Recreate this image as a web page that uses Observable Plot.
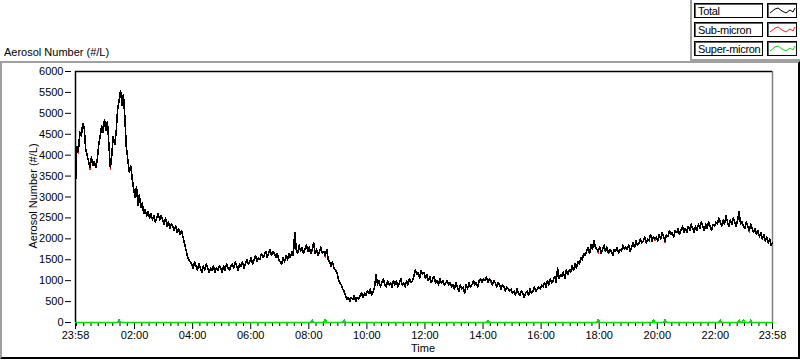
<!DOCTYPE html>
<html><head><meta charset="utf-8">
<script src="https://cdn.jsdelivr.net/npm/d3@7"></script>
<script src="https://cdn.jsdelivr.net/npm/@observablehq/plot@0.6"></script>
<style>
html,body{margin:0;padding:0;background:#fff;width:800px;height:361px;overflow:hidden;font-family:"Liberation Sans",Arial,sans-serif;font-size:11px;color:#000;}
#wrap{position:relative;width:800px;height:361px;}
#panel{position:absolute;left:0;top:61px;width:796px;height:294px;border-top:2px solid #a0a0a0;border-left:2px solid #a0a0a0;border-right:2px solid #000;border-bottom:2px solid #000;}
#legend{position:absolute;left:690px;top:0;width:108px;height:59px;border-left:2px solid #a0a0a0;border-bottom:2px solid #a0a0a0;}
.lbox{position:absolute;left:694px;width:67px;height:13px;border:1px solid #000;box-shadow:inset 1px 1px 0 #606060;background:#fff;}
.lbox span{position:absolute;left:3px;top:2px;line-height:11px;white-space:nowrap;letter-spacing:-0.3px;}
.sbox{position:absolute;left:767px;width:28px;height:13px;border:1px solid #000;box-shadow:inset 1px 1px 0 #606060;background:#fff;}
.sbox svg{position:absolute;left:0;top:0;}
#ytitle{position:absolute;left:33px;top:196px;transform:translate(-50%,-50%) rotate(-90deg);white-space:nowrap;line-height:11px;}
#xtitle{position:absolute;left:423px;top:343px;transform:translateX(-50%);white-space:nowrap;line-height:11px;}
#toptitle{position:absolute;left:4px;top:47px;white-space:nowrap;line-height:11px;}
#chart{position:absolute;left:0;top:0;}
#chart svg g[aria-label="line"] path{shape-rendering:crispEdges;}
</style></head>
<body><div id="wrap">
<div id="panel"></div>
<div id="legend"></div>
<div id="toptitle">Aerosol Number (#/L)</div>
<div id="ytitle">Aerosol Number (#/L)</div>
<div id="xtitle">Time</div>
<div id="chart"></div>
<div id="leg"></div>
</div>
<script>
// ---- data (sampled every 3 minutes from 23:58 to 23:58 next day; one row per hour) ----
const startClock = "23:58";
const stepMinutes = 3;
const seriesNames = ["Total", "Sub-micron", "Super-micron"];
const seriesColors = ["#000000", "#ff2020", "#00e000"];

const total = [
  3300, 4200, 4100, 4550, 4450, 4750, 4650, 4150, 4000, 3850, 3700, 3950, 3750, 3850, 3700, 3900, 4250, 4450, 4700, 4550,
  4850, 4600, 4800, 4250, 3700, 4000, 4450, 4250, 4550, 5100, 5300, 5550, 5200, 5450, 4900, 4200, 3900, 3600, 3750, 3450,
  3200, 3000, 3250, 2800, 3050, 2750, 2850, 2600, 2700, 2550, 2650, 2500, 2600, 2450, 2550, 2400, 2500, 2600, 2450, 2550,
  2450, 2350, 2500, 2300, 2400, 2250, 2350, 2300, 2200, 2300, 2150, 2250, 2100, 2200, 2050, 1900, 1750, 1600, 1500, 1450,
  1400, 1300, 1450, 1350, 1250, 1400, 1300, 1200, 1350, 1250, 1400, 1300, 1200, 1300, 1250, 1350, 1200, 1300, 1250, 1350,
  1300, 1200, 1350, 1250, 1400, 1300, 1250, 1350, 1400, 1300, 1450, 1350, 1250, 1400, 1350, 1450, 1300, 1400, 1500, 1400,
  1450, 1550, 1400, 1500, 1600, 1450, 1550, 1500, 1650, 1550, 1600, 1700, 1550, 1650, 1750, 1600, 1700, 1650, 1550, 1650,
  1500, 1450, 1400, 1550, 1450, 1600, 1500, 1650, 1550, 1700, 1600, 2150, 1750, 1650, 1850, 1700, 1800, 1650, 1750, 1850,
  1700, 1800, 1650, 1750, 1900, 1650, 1750, 1600, 1700, 1800, 1650, 1700, 1600, 1750, 1500, 1450, 1350, 1450, 1300, 1250,
  1200, 1050,  950,  900,  800,  750,  650,  550,  600,  500,  600,  550,  650,  500,  600,  550,  650,  700,  600,  700,
   650,  750,  700,  800,  650,  750,  850, 1150,  900, 1000,  850,  950, 1050,  900,  850, 1000,  900,  950,  850, 1000,
   900, 1000,  850,  950, 1050,  900,  950,  850, 1000,  900, 1050,  950, 1000, 1100, 1250, 1150, 1200, 1050, 1250, 1150,
  1200, 1050, 1150, 1000, 1100,  950, 1050, 1100,  950, 1000,  900, 1050,  950, 1000,  900,  950, 1000,  900,  950,  850,
   900,  800,  950,  850,  750,  900,  800,  850,  700,  900,  800,  950,  850,  900, 1000,  900,  950,  850, 1000, 1050,
   950, 1050, 1000, 1100,  950, 1050, 1000,  900, 1000,  950,  850,  950,  900,  800,  900,  850,  750,  850,  800,  750,
   800,  700,  750,  650,  800,  700,  650,  750,  700,  600,  700,  750,  650,  800,  700,  750,  850,  750,  800,  850,
   800,  900,  850,  950,  850, 1000,  900, 1050,  950, 1000, 1100,  950, 1300, 1050, 1150, 1100, 1200, 1050, 1250, 1150,
  1250, 1200, 1350, 1250, 1400, 1300, 1450, 1400, 1550, 1500, 1650, 1600, 1700, 1800, 1650, 1850, 1750, 1950, 1800, 1750,
  1700, 1800, 1650, 1750, 1850, 1700, 1800, 1650, 1750, 1700, 1600, 1750, 1700, 1800, 1650, 1750, 1700, 1850, 1750, 1800,
  1750, 1850, 1700, 1800, 1900, 1800, 1950, 1850, 1900, 2000, 1900, 1950, 2050, 1900, 2000, 1950, 2100, 1950, 2050, 2000,
  2050, 1950, 2100, 2000, 2150, 2050, 1950, 2100, 2050, 2200, 2100, 2150, 2050, 2200, 2150, 2250, 2100, 2200, 2300, 2150,
  2250, 2150, 2300, 2200, 2350, 2250, 2150, 2300, 2200, 2350, 2250, 2400, 2300, 2200, 2350, 2250, 2400, 2300, 2200, 2350,
  2300, 2400, 2350, 2500, 2400, 2300, 2450, 2350, 2550, 2400, 2300, 2450, 2350, 2500, 2400, 2300, 2450, 2650, 2350, 2400,
  2300, 2250, 2400, 2300, 2200, 2350, 2250, 2150, 2250, 2100, 2200, 2050, 2150, 2000, 2100, 1950, 2050, 1900, 2000, 1850,
  1900
];

const subMicron = [
  3300, 4200, 4050, 4550, 4450, 4700, 4650, 4150, 4000, 3850, 3650, 3950, 3750, 3850, 3700, 3900, 4250, 4450, 4700, 4550,
  4850, 4600, 4800, 4250, 3650, 4000, 4450, 4250, 4550, 5100, 5250, 5550, 5200, 5450, 4900, 4150, 3900, 3600, 3750, 3450,
  3200, 3000, 3250, 2800, 3050, 2750, 2850, 2600, 2700, 2550, 2650, 2500, 2600, 2450, 2550, 2400, 2500, 2600, 2450, 2550,
  2450, 2350, 2500, 2300, 2400, 2250, 2350, 2300, 2200, 2300, 2150, 2250, 2100, 2200, 2050, 1900, 1750, 1600, 1500, 1450,
  1400, 1300, 1450, 1350, 1250, 1400, 1300, 1200, 1350, 1250, 1400, 1300, 1200, 1300, 1250, 1350, 1200, 1300, 1250, 1350,
  1300, 1200, 1350, 1250, 1400, 1300, 1250, 1350, 1400, 1300, 1450, 1350, 1250, 1400, 1350, 1450, 1300, 1400, 1500, 1400,
  1450, 1550, 1400, 1500, 1600, 1450, 1550, 1500, 1650, 1550, 1600, 1700, 1550, 1650, 1750, 1600, 1700, 1650, 1550, 1650,
  1500, 1450, 1400, 1550, 1450, 1600, 1500, 1650, 1550, 1700, 1600, 2150, 1750, 1650, 1850, 1700, 1800, 1650, 1750, 1850,
  1700, 1800, 1650, 1700, 1900, 1650, 1750, 1600, 1700, 1800, 1650, 1700, 1550, 1750, 1500, 1450, 1350, 1450, 1300, 1250,
  1200, 1050,  950,  900,  800,  700,  650,  550,  600,  500,  600,  550,  650,  500,  600,  550,  650,  700,  600,  700,
   650,  750,  700,  800,  650,  750,  850, 1150,  900, 1000,  850,  950, 1050,  900,  850, 1000,  900,  950,  850, 1000,
   900, 1000,  850,  950, 1050,  900,  950,  850, 1000,  900, 1050,  950, 1000, 1100, 1250, 1150, 1200, 1050, 1250, 1150,
  1200, 1050, 1150, 1000, 1100,  950, 1050, 1100,  950, 1000,  900, 1050,  950, 1000,  900,  950, 1000,  900,  950,  850,
   900,  800,  950,  850,  750,  900,  800,  850,  700,  900,  800,  950,  850,  900, 1000,  900,  950,  850, 1000, 1050,
   950, 1050, 1000, 1100,  950, 1050,  950,  900, 1000,  950,  850,  950,  900,  800,  900,  850,  750,  850,  800,  750,
   800,  700,  750,  650,  800,  700,  650,  750,  700,  600,  700,  750,  650,  800,  700,  750,  850,  750,  800,  850,
   800,  900,  850,  950,  850, 1000,  900, 1050,  950, 1000, 1100,  950, 1300, 1050, 1150, 1100, 1200, 1050, 1250, 1150,
  1250, 1200, 1350, 1250, 1400, 1300, 1450, 1400, 1550, 1500, 1650, 1600, 1700, 1800, 1650, 1850, 1750, 1950, 1800, 1750,
  1650, 1800, 1650, 1750, 1850, 1700, 1800, 1650, 1750, 1700, 1600, 1750, 1700, 1800, 1650, 1750, 1700, 1850, 1750, 1800,
  1750, 1850, 1700, 1800, 1900, 1800, 1950, 1850, 1900, 2000, 1900, 1950, 2050, 1900, 2000, 1950, 2100, 1950, 2050, 1950,
  2050, 1950, 2100, 2000, 2150, 2050, 1900, 2100, 2050, 2200, 2100, 2150, 2050, 2200, 2150, 2250, 2100, 2200, 2300, 2150,
  2250, 2150, 2300, 2200, 2350, 2250, 2150, 2300, 2200, 2350, 2250, 2400, 2300, 2200, 2350, 2250, 2400, 2300, 2200, 2350,
  2300, 2400, 2350, 2500, 2350, 2300, 2450, 2350, 2550, 2400, 2300, 2450, 2350, 2500, 2400, 2300, 2450, 2600, 2350, 2400,
  2300, 2250, 2400, 2300, 2150, 2350, 2250, 2150, 2250, 2100, 2200, 2050, 2150, 2000, 2100, 1950, 2050, 1900, 2000, 1850,
  1900
];

const superMicron = [
  0, 0, 0, 0, 0, 0, 0, 0, 0, 0, 0, 0, 0, 0, 0, 0, 0, 0, 0, 0,
  0, 0, 0, 0, 0, 0, 0, 0, 0, 0, 80, 0, 0, 0, 0, 0, 0, 0, 0, 0,
  0, 0, 0, 0, 0, 0, 0, 0, 0, 0, 0, 0, 0, 0, 0, 0, 0, 0, 0, 0,
  0, 0, 0, 0, 0, 0, 0, 0, 0, 0, 0, 0, 0, 0, 0, 0, 0, 0, 0, 0,
  0, 0, 0, 0, 0, 0, 0, 0, 0, 0, 0, 0, 0, 0, 0, 0, 0, 0, 0, 0,
  0, 0, 0, 0, 0, 0, 0, 0, 0, 0, 0, 0, 0, 0, 0, 0, 0, 0, 0, 0,
  0, 0, 0, 0, 0, 0, 0, 0, 0, 0, 0, 0, 0, 0, 0, 0, 0, 0, 0, 0,
  0, 0, 0, 0, 0, 0, 0, 0, 0, 0, 0, 0, 0, 0, 0, 0, 0, 0, 0, 0,
  0, 0, 0, 60, 0, 0, 0, 0, 0, 0, 0, 0, 70, 0, 0, 0, 0, 0, 0, 0,
  0, 0, 0, 0, 0, 60, 0, 0, 0, 0, 0, 0, 0, 0, 0, 0, 0, 0, 0, 0,
  0, 0, 0, 0, 0, 0, 0, 0, 0, 0, 0, 0, 0, 0, 0, 0, 0, 0, 0, 0,
  0, 0, 0, 0, 0, 0, 0, 0, 0, 0, 0, 0, 0, 0, 0, 0, 0, 0, 0, 0,
  0, 0, 0, 0, 0, 0, 0, 0, 0, 0, 0, 0, 0, 0, 0, 0, 0, 0, 0, 0,
  0, 0, 0, 0, 0, 0, 0, 0, 0, 0, 0, 0, 0, 0, 0, 0, 0, 0, 0, 0,
  0, 0, 0, 0, 50, 0, 0, 0, 0, 0, 0, 0, 0, 0, 0, 0, 0, 0, 0, 0,
  0, 0, 0, 0, 0, 0, 0, 0, 0, 0, 0, 0, 0, 0, 0, 0, 0, 0, 0, 0,
  0, 0, 0, 0, 0, 0, 0, 0, 0, 0, 0, 0, 0, 0, 0, 0, 0, 0, 0, 0,
  0, 0, 0, 0, 0, 0, 0, 0, 0, 0, 0, 0, 0, 0, 0, 0, 0, 0, 0, 0,
  70, 0, 0, 0, 0, 0, 0, 0, 0, 0, 0, 0, 0, 0, 0, 0, 0, 0, 0, 0,
  0, 0, 0, 0, 0, 0, 0, 0, 0, 0, 0, 0, 0, 0, 0, 0, 0, 0, 60, 0,
  0, 0, 0, 0, 0, 0, 70, 0, 0, 0, 0, 0, 0, 0, 0, 0, 0, 0, 0, 0,
  0, 0, 0, 0, 0, 0, 0, 0, 0, 0, 0, 0, 0, 0, 0, 0, 0, 0, 0, 0,
  0, 0, 0, 0, 60, 0, 0, 0, 0, 0, 0, 0, 0, 0, 0, 0, 0, 60, 0, 0,
  70, 0, 0, 0, 0, 60, 0, 0, 0, 0, 0, 0, 0, 0, 0, 0, 0, 0, 0, 0,
  0
];

const yTicks = [0, 500, 1000, 1500, 2000, 2500, 3000, 3500, 4000, 4500, 5000, 5500, 6000];
const xTickLabels = ["23:58", "02:00", "04:00", "06:00", "08:00", "10:00", "12:00",
                     "14:00", "16:00", "18:00", "20:00", "22:00", "23:58"];

// ---- build table ----
const [sh, sm] = startClock.split(":").map(Number);
const t0 = new Date(2020, 0, 1, sh, sm);
const tEnd = new Date(2020, 0, 2, sh, sm);
const rows = total.map((v, i) => ({
  time: new Date(+t0 + i * stepMinutes * 60000),
  total: v, sub: subMicron[i], sup: superMicron[i]
}));

const majorTicks = xTickLabels.map((s, i) => {
  if (i === 0) return t0;
  if (i === xTickLabels.length - 1) return tEnd;
  const [h, m] = s.split(":").map(Number);
  return new Date(2020, 0, 2, h, m);
});
const labelMap = new Map(majorTicks.map((d, i) => [+d, xTickLabels[i]]));
const majorSet = new Set(majorTicks.map(d => +d));
const minorTicks = d3.timeMinute.every(15).range(t0, tEnd).filter(d => !majorSet.has(+d));

const chart = Plot.plot({
  width: 800, height: 361,
  marginLeft: 75, marginRight: 28, marginTop: 71, marginBottom: 39,
  style: {background: "transparent", fontFamily: "Liberation Sans, Arial, sans-serif", fontSize: "11px", color: "#000", overflow: "visible"},
  x: {type: "time", domain: [t0, tEnd], axis: null},
  y: {domain: [0, 6000], axis: null},
  marks: [
    Plot.axisY(yTicks, {tickSize: 6, tickPadding: 2, dx: -4, label: null, tickFormat: d => String(d), stroke: "#000"}),
    Plot.axisX(minorTicks, {tickSize: 4, tickFormat: () => "", label: null, stroke: "#000"}),
    Plot.axisX(majorTicks, {tickSize: 7, tickPadding: 2, tickFormat: d => labelMap.get(+d), label: null, stroke: "#000"}),
    Plot.ruleX([tEnd], {stroke: "#808080", strokeWidth: 1.5}),
    Plot.ruleY([0], {stroke: "#808080", strokeWidth: 1.5}),
    Plot.ruleX([t0], {stroke: "#000", strokeWidth: 1.5}),
    Plot.ruleY([6000], {stroke: "#000", strokeWidth: 1.5}),
    Plot.line(rows, {x: "time", y: "sup", stroke: seriesColors[2], strokeWidth: 1.5}),
    Plot.line(rows, {x: "time", y: "sub", stroke: seriesColors[1], strokeWidth: 1}),
    Plot.line(rows, {x: "time", y: "total", stroke: seriesColors[0], strokeWidth: 1.6})
  ]
});
document.getElementById("chart").appendChild(chart);

// ---- legend ----
const leg = document.getElementById("leg");
const rowTops = [3, 22, 41];
seriesNames.forEach((name, i) => {
  const b = document.createElement("div");
  b.className = "lbox"; b.style.top = rowTops[i] + "px";
  const sp = document.createElement("span"); sp.textContent = name; b.appendChild(sp);
  leg.appendChild(b);
  const s = document.createElement("div");
  s.className = "sbox"; s.style.top = rowTops[i] + "px";
  s.innerHTML = `<svg width="28" height="13"><polyline points="2,9 7,5 10,4 14,7 18,9 22,6 25,8 27,4" fill="none" stroke="${seriesColors[i]}" stroke-width="1"/></svg>`;
  leg.appendChild(s);
});
</script>
</body></html>
